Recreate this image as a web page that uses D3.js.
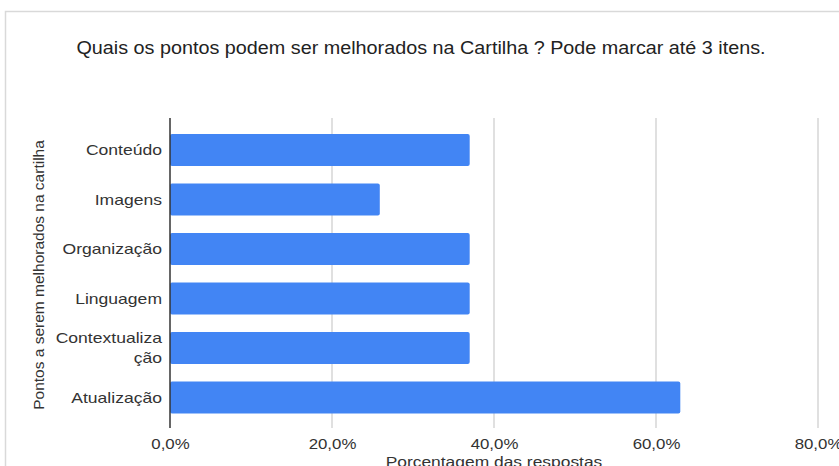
<!DOCTYPE html>
<html>
<head>
<meta charset="utf-8">
<script src="https://cdn.jsdelivr.net/npm/d3@7"></script>
<style>
  html, body { margin: 0; padding: 0; background: #fff; }
  svg { display: block; font-family: "Liberation Sans", Arial, sans-serif; }
</style>
</head>
<body>
<svg id="chart" width="839" height="466"></svg>
<script>
// Survey answers: share of respondents choosing each item
const categories = ["Conteúdo", "Imagens", "Organização", "Linguagem", "Contextualização", "Atualização"];
const categoryLines = [["Conteúdo"], ["Imagens"], ["Organização"], ["Linguagem"], ["Contextualiza", "ção"], ["Atualização"]];
const values = [37.0, 25.9, 37.0, 37.0, 37.0, 63.0];
const tickValues = [0, 20, 40, 60, 80];
const tickLabels = ["0,0%", "20,0%", "40,0%", "60,0%", "80,0%"];

const title = "Quais os pontos podem ser melhorados na Cartilha ? Pode marcar até 3 itens.";
const xTitle = "Porcentagem das respostas";
const yTitle = "Pontos a serem melhorados na cartilha";

const svg = d3.select("#chart");
const FONT = "Liberation Sans, Arial, sans-serif";

// widen horizontal text slightly (wide-set lettering)
function widen(node, k) {
  const w = node.getComputedTextLength();
  d3.select(node).attr("textLength", w * k).attr("lengthAdjust", "spacingAndGlyphs");
}

// outer card frame
svg.append("rect")
  .attr("x", 5.5).attr("y", 11.5)
  .attr("width", 860).attr("height", 480)
  .attr("fill", "#fff").attr("stroke", "#d9d9d9").attr("stroke-width", 1.5);

const x = d3.scaleLinear().domain([0, 80]).range([170, 818]);
const y = d3.scaleBand().domain(categories).range([125.25, 422.25])
  .paddingInner(0.35).paddingOuter(0.175);

const plotTop = 118, plotBottom = 428;

// vertical gridlines
svg.append("g").selectAll("line")
  .data(tickValues.filter(v => v > 0))
  .join("line")
  .attr("x1", d => x(d)).attr("x2", d => x(d))
  .attr("y1", plotTop).attr("y2", plotBottom)
  .attr("stroke", "#d6d6d6").attr("stroke-width", 1.5);

// bars
svg.append("g").selectAll("rect")
  .data(categories)
  .join("rect")
  .attr("x", x(0))
  .attr("y", d => y(d))
  .attr("width", (d, i) => x(values[i]) - x(0))
  .attr("height", y.bandwidth())
  .attr("rx", 2).attr("ry", 2)
  .attr("fill", "#4285f4");

// baseline at zero
svg.append("line")
  .attr("x1", x(0)).attr("x2", x(0))
  .attr("y1", plotTop).attr("y2", plotBottom)
  .attr("stroke", "#333").attr("stroke-width", 1.5);

// x axis tick labels
const xAxis = d3.axisBottom(x)
  .tickValues(tickValues)
  .tickFormat((d, i) => tickLabels[i])
  .tickSize(0).tickPadding(0);
const gx = svg.append("g").attr("transform", "translate(0,449)").call(xAxis);
gx.select(".domain").remove();
gx.selectAll("text")
  .attr("font-size", 14.5).attr("fill", "#333")
  .attr("font-family", FONT)
  .attr("dy", null).attr("y", 0)
  .each(function() { widen(this, 1.16); });

// y axis category labels
const yAxis = d3.axisLeft(y).tickSize(0).tickPadding(0).tickFormat("");
const gy = svg.append("g").attr("transform", "translate(162,0)").call(yAxis);
gy.select(".domain").remove();
gy.selectAll(".tick").each(function(d, i) {
  const lines = categoryLines[i];
  const t = d3.select(this).append("text")
    .attr("text-anchor", "end").attr("fill", "#333")
    .attr("font-size", 15)
    .attr("font-family", FONT);
  const lh = 20;
  lines.forEach((s, k) => {
    const ts = t.append("tspan").attr("x", 0)
      .attr("y", (k - (lines.length - 1) / 2) * lh)
      .attr("dy", "0.36em").text(s);
    widen(ts.node(), 1.17);
  });
});

// titles
svg.append("text")
  .attr("x", 421).attr("y", 54)
  .attr("text-anchor", "middle")
  .attr("font-size", 17.5).attr("fill", "#222")
  .text(title)
  .each(function() { widen(this, 1.13); });

svg.append("text")
  .attr("x", 494).attr("y", 467)
  .attr("text-anchor", "middle")
  .attr("font-size", 15).attr("fill", "#333")
  .text(xTitle)
  .each(function() { widen(this, 1.16); });

svg.append("text")
  .attr("transform", "translate(44,275) rotate(-90)")
  .attr("text-anchor", "middle")
  .attr("font-size", 15.5).attr("fill", "#333")
  .text(yTitle);
</script>
</body>
</html>
